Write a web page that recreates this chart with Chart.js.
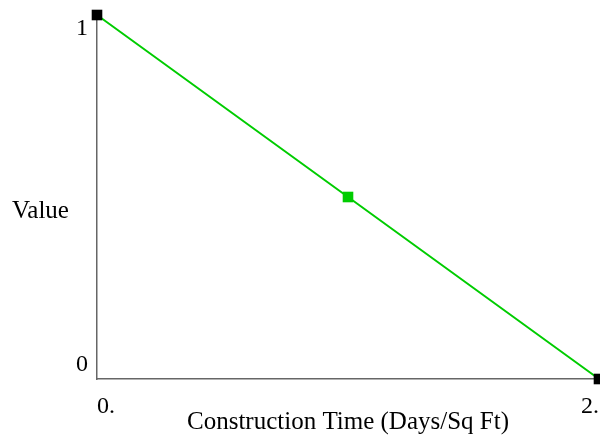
<!DOCTYPE html>
<html>
<head>
<meta charset="utf-8">
<script src="https://cdn.jsdelivr.net/npm/chart.js@4/dist/chart.umd.min.js"></script>
<style>
html,body{margin:0;padding:0;background:#fff;}
#c{display:block;}
</style>
</head>
<body>
<canvas id="c" width="600" height="435"></canvas>
<script>
const xValues = [0, 1, 2];
const yValues = [1, 0.5, 0];
const pointColors = ['#000000', '#00cc00', '#000000'];
const xTickLabels = {0: '0.', 2: '2.'};
const yTickLabels = {0: '0', 1: '1'};
const xTitle = 'Construction Time (Days/Sq Ft)';
const yTitle = 'Value';

const FONT = "'Liberation Serif', 'Times New Roman', serif";

const yTitlePlugin = {
  id: 'yTitle',
  afterDraw(chart) {
    const ctx = chart.ctx;
    const ys = chart.scales.y;
    ctx.save();
    ctx.font = '25px ' + FONT;
    ctx.fillStyle = '#000';
    ctx.textAlign = 'center';
    ctx.textBaseline = 'middle';
    ctx.fillText(yTitle, 40.5, (ys.top + ys.bottom) / 2 + 14);
    ctx.restore();
  }
};

new Chart(document.getElementById('c'), {
  type: 'line',
  data: {
    datasets: [{
      data: xValues.map((x, i) => ({x: x, y: yValues[i]})),
      borderColor: '#00cc00',
      borderWidth: 2,
      pointStyle: 'rect',
      pointRadius: 7.5,
      pointBorderWidth: 0,
      pointBackgroundColor: pointColors,
      pointBorderColor: pointColors,
      clip: false,
      tension: 0
    }]
  },
  options: {
    responsive: false,
    animation: false,
    events: [],
    layout: {autoPadding: false, padding: {left: 0, right: 1, top: 15, bottom: 11.8}},
    plugins: {legend: {display: false}, tooltip: {enabled: false}},
    scales: {
      x: {
        type: 'linear',
        min: 0, max: 2,
        grid: {display: false, drawTicks: false, tickLength: 0},
        border: {display: true, color: '#666666', width: 1.5},
        afterFit: (s) => { s.height = 44.2; s.paddingLeft = 0; s.paddingRight = 0; s.paddingTop = 0; s.paddingBottom = 0; },
        ticks: {
          stepSize: 2,
          align: 'inner',
          maxRotation: 0,
          padding: 13,
          color: '#000',
          font: {family: FONT, size: 24, lineHeight: 1.2},
          callback: (v) => xTickLabels[v] !== undefined ? xTickLabels[v] : ''
        },
        title: {
          display: true,
          text: xTitle,
          color: '#000',
          font: {family: FONT, size: 25, lineHeight: 0.1},
          padding: {top: 0, bottom: 0}
        }
      },
      y: {
        type: 'linear',
        min: 0, max: 1,
        grid: {display: false, drawTicks: false, tickLength: 0},
        border: {display: true, color: '#666666', width: 1.5},
        afterFit: (s) => { s.width = 97; s.paddingTop = 0; s.paddingBottom = 0; s.paddingLeft = 0; s.paddingRight = 0; },
        ticks: {
          stepSize: 1,
          padding: 9,
          color: '#000',
          font: {family: FONT, size: 24, lineHeight: 1.15},
          callback: (v) => {
            const t = yTickLabels[v];
            if (t === undefined) return '';
            return v === 1 ? ['', t] : [t, ''];
          }
        }
      }
    }
  },
  plugins: [yTitlePlugin]
});
</script>
</body>
</html>
